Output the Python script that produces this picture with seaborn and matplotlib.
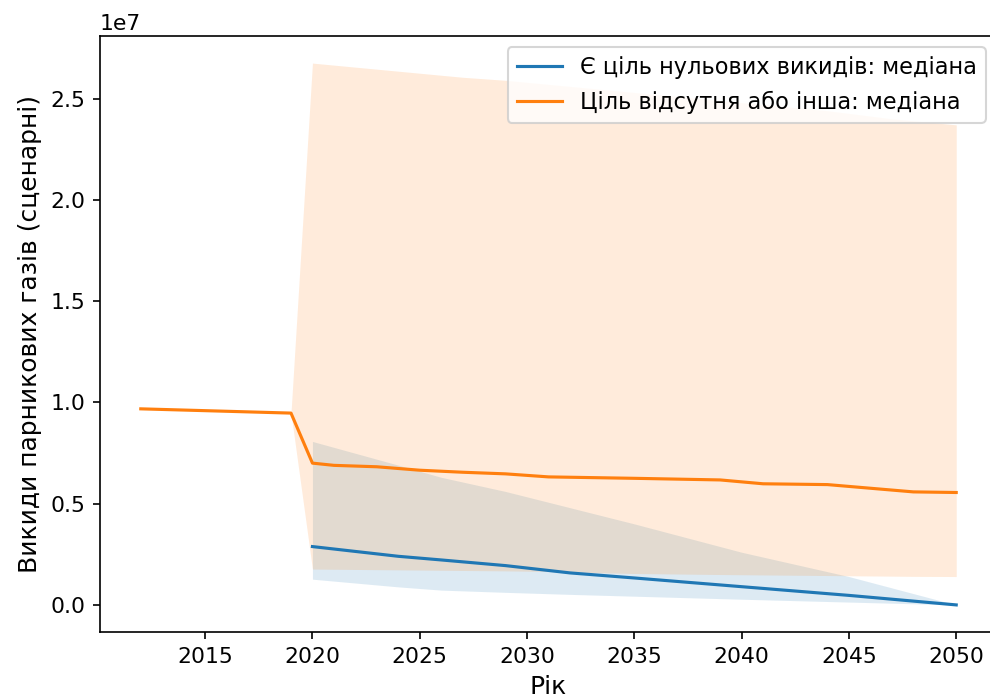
import matplotlib
matplotlib.use("Agg")
import matplotlib.pyplot as plt
import numpy as np
import pandas as pd
import seaborn as sns

SCALE = 1e7

# Є ціль нульових викидів (values in units of 1e7)
net_zero_years = [2020, 2024, 2026, 2029, 2032, 2035, 2040, 2045, 2050]
net_zero_median = [0.288, 0.240, 0.222, 0.194, 0.158, 0.133, 0.090, 0.047, 0.0]
net_zero_low = [0.127, 0.089, 0.073, 0.062, 0.052, 0.043, 0.028, 0.014, 0.0]
net_zero_high = [0.807, 0.690, 0.630, 0.560, 0.480, 0.400, 0.260, 0.140, 0.0]

# Ціль відсутня або інша
other_years = [2012, 2019, 2020, 2021, 2023, 2025, 2027, 2029, 2031, 2035,
               2039, 2041, 2044, 2047, 2048, 2050]
other_median = [0.968, 0.947, 0.700, 0.689, 0.682, 0.665, 0.655, 0.647, 0.632, 0.625,
                0.617, 0.598, 0.594, 0.567, 0.558, 0.555]
other_low = [0.968, 0.947, 0.177, 0.176, 0.174, 0.172, 0.170, 0.168, 0.165, 0.155,
             0.150, 0.148, 0.145, 0.142, 0.141, 0.140]
other_high = [0.968, 0.947, 2.675, 2.665, 2.645, 2.625, 2.605, 2.590, 2.570, 2.530,
              2.490, 2.470, 2.440, 2.400, 2.390, 2.370]

groups = [
    ("Є ціль нульових викидів: медіана", "#1f77b4",
     net_zero_years, net_zero_median, net_zero_low, net_zero_high),
    ("Ціль відсутня або інша: медіана", "#ff7f0e",
     other_years, other_median, other_low, other_high),
]

fig = plt.figure(figsize=(6.6, 698 / 150), dpi=150)
ax = fig.add_axes([100 / 990, 66 / 698, 897 / 990, 596 / 698])

for label, color, years, med, low, high in groups:
    df = pd.DataFrame({
        "Рік": years,
        "median": np.array(med) * SCALE,
        "low": np.array(low) * SCALE,
        "high": np.array(high) * SCALE,
    })
    sns.lineplot(data=df, x="Рік", y="median", color=color, label=label, ax=ax)
    ax.fill_between(df["Рік"], df["low"], df["high"], color=color, alpha=0.15, linewidth=0)

ax.set_xticks(range(2015, 2051, 5))
ax.tick_params(labelsize=10.5)
ax.yaxis.get_offset_text().set_fontsize(10.5)
ax.set_xlabel("Рік", fontsize=12)
ax.set_ylabel("Викиди парникових газів (сценарні)", fontsize=12)
ax.legend(loc="upper right", fontsize=10.8)

fig.savefig("out.png", dpi=150)
